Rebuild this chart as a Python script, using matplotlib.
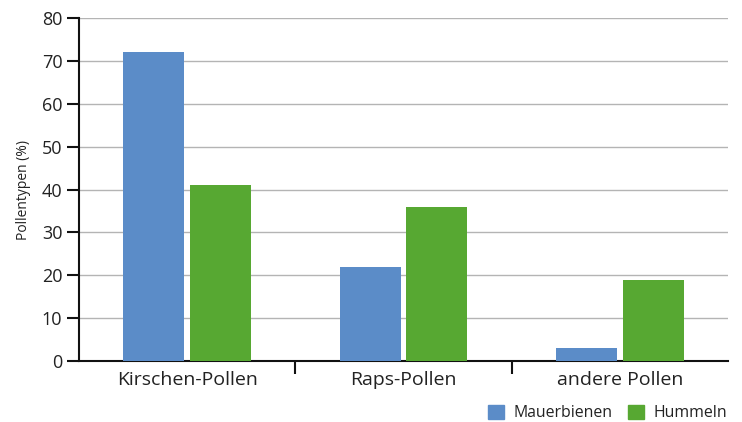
import matplotlib.pyplot as plt
import numpy as np
from matplotlib.patches import Patch

categories = ["Kirschen-Pollen", "Raps-Pollen", "andere Pollen"]
mauerbienen = [72, 22, 3]
hummeln = [41, 36, 19]

blue = "#5b8cc8"
green = "#57a832"

plt.rcParams['font.family'] = ['Open Sans', 'DejaVu Sans']

fig = plt.figure(figsize=(7.42, 4.22), dpi=100)
ax = fig.add_axes([0.1065, 0.1445, 0.8745, 0.8125])

x = np.arange(len(categories))
w = 0.282
gap = 0.013
ax.bar(x - w / 2 - gap, mauerbienen, w, color=blue, zorder=3)
ax.bar(x + w / 2 + gap, hummeln, w, color=green, zorder=3)

ax.set_xlim(-0.5, 2.5)
ax.set_ylim(0, 80)
ax.set_yticks(range(0, 81, 10))
ax.yaxis.grid(True, color="#b4b4b4", linewidth=1.0, zorder=0)

# category separators as ticks
ax.set_xticks([0.5, 1.5])
ax.set_xticklabels([])
ax.tick_params(axis="x", direction="out", length=9, width=1.5, color="#111111")
ax.set_xticks(x, minor=True)
ax.set_xticklabels(categories, minor=True, fontsize=14, color="#222222")
ax.tick_params(axis="x", which="minor", length=0, pad=7)
ax.tick_params(axis="y", direction="out", length=9, width=1.5, labelsize=13, pad=3,
               color="#111111", labelcolor="#222222")

for s in ["top", "right"]:
    ax.spines[s].set_visible(False)
for s in ["left", "bottom"]:
    ax.spines[s].set_linewidth(1.5)
    ax.spines[s].set_color("#111111")

ax.set_ylabel("Pollentypen (%)", fontsize=10, labelpad=8, color="#222222")

handles = [Patch(color=blue, label="Mauerbienen"), Patch(color=green, label="Hummeln")]
fig.legend(handles=handles, loc="lower right", bbox_to_anchor=(0.981, 0.0), ncol=2,
           frameon=False, fontsize=11.4, handlelength=1.0, handleheight=1.0,
           columnspacing=1.0, handletextpad=0.6, borderpad=0.05, borderaxespad=0,
           labelcolor="#222222")

fig.savefig("out.png", dpi=100)
